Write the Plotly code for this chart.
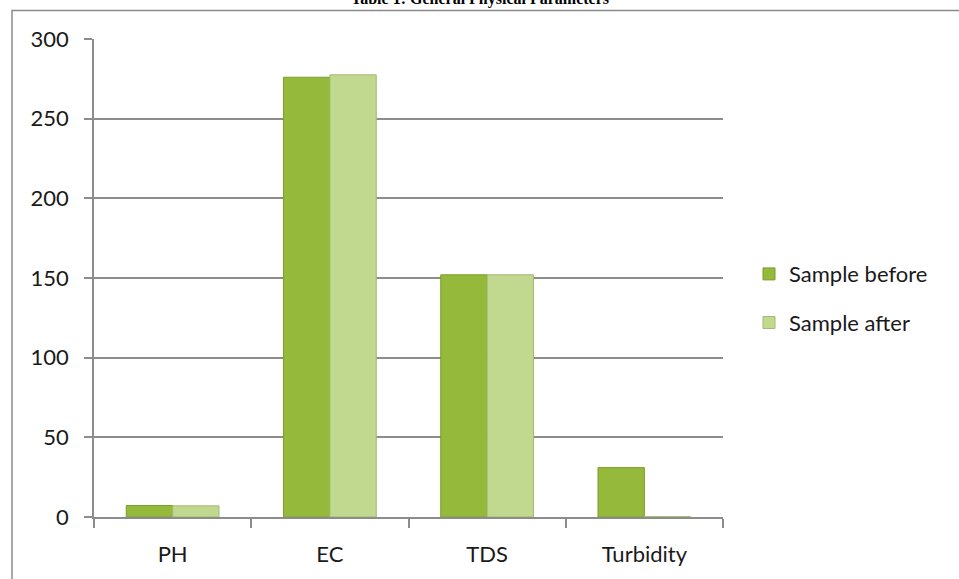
import plotly.graph_objects as go

categories = ["PH", "EC", "TDS", "Turbidity"]
sample_before = [7.2, 276, 152, 31]
sample_after = [7.0, 277.5, 152, 0.2]
y_ticks = [0, 50, 100, 150, 200, 250, 300]

W, H = 959, 579
L, R, T, B = 94, 723, 39, 519  # plot area pixel edges

def px_x(p):
    return (p - L) / (R - L)

def px_y(p):
    return (B - p) / (B - T)

font = "Lato, Carlito, Calibri, sans-serif"
grey = "#8c8c8c"

fig = go.Figure()
fig.add_trace(go.Bar(
    x=categories, y=sample_before, name="Sample before",
    marker=dict(color="#95ba3b", line=dict(color="#7c9e2c", width=1)),
    legendgroup="a",
))
fig.add_trace(go.Bar(
    x=categories, y=sample_after, name="Sample after",
    marker=dict(color="#c0d98f", line=dict(color="#a3ba70", width=1)),
    legendgroup="b",
))

fig.update_layout(
    width=W, height=H,
    margin=dict(l=L, r=W - R, t=T, b=H - B, pad=0),
    paper_bgcolor="white", plot_bgcolor="white",
    barmode="group", bargap=0.41, bargroupgap=0,
    font=dict(family=font, size=22, color="#1a1a1a"),
    showlegend=True,
    legend=dict(
        x=px_x(749), y=px_y(254), xanchor="left", yanchor="top",
        font=dict(family=font, size=22, color="#1a1a1a"),
        traceorder="grouped", tracegroupgap=17,
        bgcolor="rgba(0,0,0,0)", itemwidth=30,
    ),
    xaxis=dict(
        type="category", showline=True, linecolor=grey, linewidth=1.5,
        ticks="outside", ticklen=9, tickcolor=grey, tickwidth=1.5,
        tickson="boundaries", showgrid=False,
        ticklabelstandoff=17,
    ),
    yaxis=dict(
        range=[0, 300], tickvals=y_ticks, showline=True, linecolor=grey,
        linewidth=1.5, ticks="outside", ticklen=8, tickcolor=grey,
        tickwidth=1.5, showgrid=True, gridcolor=grey, gridwidth=1.5,
        zeroline=False, ticklabelstandoff=11,
    ),
    shapes=[dict(
        type="rect", xref="paper", yref="paper",
        x0=px_x(12), x1=px_x(965), y0=px_y(590), y1=px_y(10.5),
        line=dict(color="#8a8a8a", width=1.5), fillcolor="rgba(0,0,0,0)",
        layer="below",
    )],
    annotations=[dict(
        text="<b>Table 1: General Physical Parameters</b>",
        xref="paper", yref="paper", x=px_x(480), y=px_y(10),
        xanchor="center", yanchor="bottom", showarrow=False,
        font=dict(family="Liberation Serif, Times New Roman, serif", size=16, color="#000"),
    )],
)

fig.write_html("out.html")
